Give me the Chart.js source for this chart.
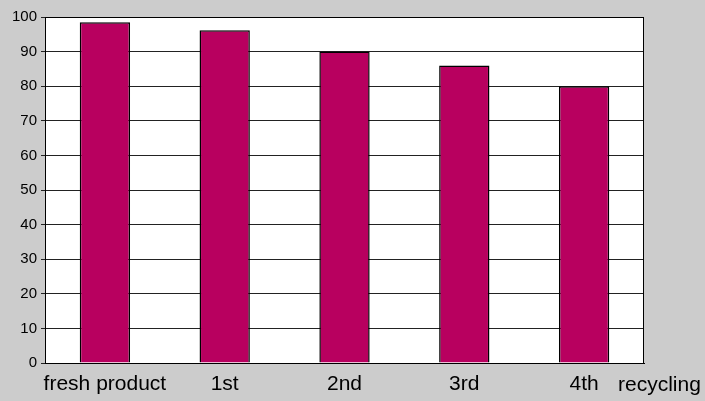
<!DOCTYPE html>
<html>
<head>
<meta charset="utf-8">
<script src="https://cdn.jsdelivr.net/npm/chart.js@4/dist/chart.umd.min.js"></script>
<style>
  html, body { margin: 0; padding: 0; background: #cccccc; }
  #wrap { width: 705px; height: 401px; }
</style>
</head>
<body>
<div id="wrap"><canvas id="chart" width="705" height="401"></canvas></div>
<script>
const categories = ['fresh product', '1st', '2nd', '3rd', '4th'];
const values = [98.5, 96.2, 90, 86, 80];
const axisTitle = 'recycling';

// white plot area + frame, and the "recycling" label at the right end of the axis
const plotFrame = {
  id: 'plotFrame',
  beforeDraw(chart) {
    const { ctx, chartArea: a } = chart;
    ctx.save();
    ctx.fillStyle = '#ffffff';
    ctx.fillRect(a.left, a.top, a.right - a.left, a.bottom - a.top);
    ctx.restore();
  },
  afterDraw(chart) {
    const { ctx, chartArea: a } = chart;
    ctx.save();
    ctx.strokeStyle = '#000';
    ctx.lineWidth = 1;
    ctx.strokeRect(a.left + 0.5, a.top + 0.5, a.right - a.left - 1, a.bottom - a.top);
    ctx.font = '21px "Liberation Sans", Arial, sans-serif';
    ctx.fillStyle = '#000';
    ctx.textBaseline = 'alphabetic';
    ctx.textAlign = 'left';
    ctx.fillText(axisTitle, a.right - 26, a.bottom + 28);
    ctx.restore();
  }
};

new Chart(document.getElementById('chart'), {
  type: 'bar',
  data: {
    labels: categories,
    datasets: [{
      data: values,
      backgroundColor: '#b8005f',
      borderColor: '#000',
      borderWidth: 1.5,
      borderSkipped: 'bottom',
      barPercentage: 0.42,
      categoryPercentage: 1
    }]
  },
  options: {
    responsive: false,
    animation: false,
    layout: { padding: { top: 17, right: 61, left: 0, bottom: 0 } },
    plugins: { legend: { display: false }, tooltip: { enabled: false } },
    scales: {
      x: {
        grid: { display: false, drawTicks: false },
        border: { color: '#000' },
        ticks: {
          color: '#000',
          padding: 9,
          maxRotation: 0,
          autoSkip: false,
          font: { family: '"Liberation Sans", Arial, sans-serif', size: 21 }
        },
        afterFit(scale) { scale.height = 38; }
      },
      y: {
        min: 0,
        max: 100,
        grid: { color: '#222', tickLength: 4 },
        border: { color: '#000' },
        ticks: {
          stepSize: 10,
          color: '#000',
          padding: 4,
          font: { family: '"Liberation Sans", Arial, sans-serif', size: 15 }
        },
        afterFit(scale) { scale.width = 45; }
      }
    }
  },
  plugins: [plotFrame]
});
</script>
</body>
</html>
